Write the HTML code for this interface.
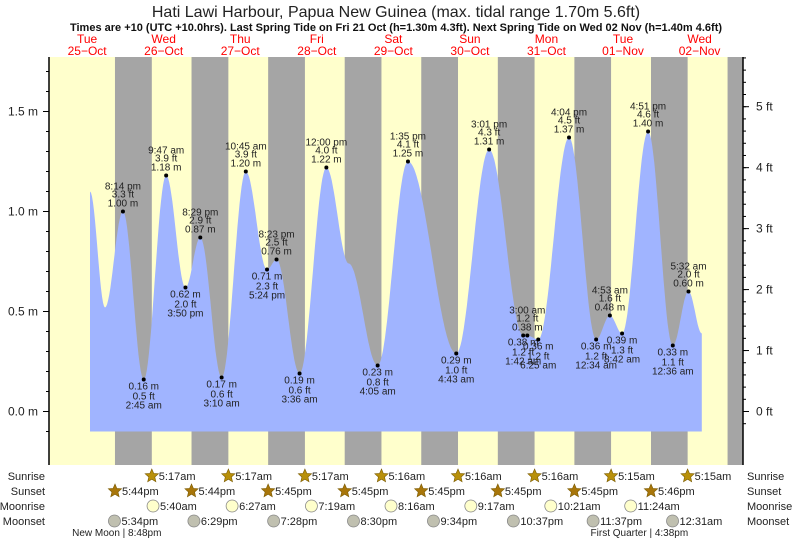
<!DOCTYPE html>
<html><head><meta charset="utf-8"><style>
body{margin:0;background:#fff;}
svg{display:block;font-family:"Liberation Sans",sans-serif;}
</style></head><body>
<svg id="chart" width="793" height="539" viewBox="0 0 793 539">
<text x="396" y="17" text-anchor="middle" font-size="16" fill="#222">Hati Lawi Harbour, Papua New Guinea (max. tidal range 1.70m 5.6ft)</text>
<text x="396" y="31" text-anchor="middle" font-size="11" font-weight="bold" fill="#111">Times are +10 (UTC +10.0hrs). Last Spring Tide on Fri 21 Oct (h=1.30m 4.3ft). Next Spring Tide on Wed 02 Nov (h=1.40m 4.6ft)</text>
<g id="bg"></g><g id="tide"></g><g id="axes"></g><g id="lbl"></g><g id="astro"></g>
</svg>
<script>
// ---- data (hours from Tue 25-Oct 00:00) ----
const dayNames=["Tue","Wed","Thu","Fri","Sat","Sun","Mon","Tue","Wed"];
const dayDates=["25\u2212Oct","26\u2212Oct","27\u2212Oct","28\u2212Oct","29\u2212Oct","30\u2212Oct","31\u2212Oct","01\u2212Nov","02\u2212Nov"];
const tideTimes=[9.9,14.6,20.23,26.75,33.78,39.83,44.48,51.17,58.75,65.4,68.38,75.6,84.0,91.0,100.08,109.58,124.72,135.02,145.7,147.0,150.42,160.07,168.57,172.88,176.7,184.85,192.6,197.53,201.7];
const tideHeights=[1.10,0.52,1.00,0.16,1.18,0.62,0.87,0.17,1.20,0.71,0.76,0.19,1.22,0.74,0.23,1.25,0.29,1.31,0.38,0.38,0.36,1.37,0.36,0.48,0.39,1.40,0.33,0.60,0.39];
const tideLabeled=[0,0,1,1,1,1,1,1,1,1,1,1,1,0,1,1,1,1,1,1,1,1,1,1,1,1,1,1,0];
const tideIsHigh=[1,0,1,0,1,0,1,0,1,0,1,0,1,0,0,1,0,1,0,1,0,1,0,1,0,1,0,1,0];
const tideTimeText=["","","8:14 pm","2:45 am","9:47 am","3:50 pm","8:29 pm","3:10 am","10:45 am","5:24 pm","8:23 pm","3:36 am","12:00 pm","","4:05 am","1:35 pm","4:43 am","3:01 pm","1:42 am","3:00 am","6:25 am","4:04 pm","12:34 am","4:53 am","8:42 am","4:51 pm","12:36 am","5:32 am",""];
const sunriseTimes=[29.28,53.28,77.28,101.27,125.27,149.27,173.25,197.25];
const sunriseText=["5:17am","5:17am","5:17am","5:16am","5:16am","5:16am","5:15am","5:15am"];
const sunsetTimes=[17.73,41.73,65.75,89.75,113.75,137.75,161.75,185.77,209.77];
const sunsetText=["5:44pm","5:44pm","5:45pm","5:45pm","5:45pm","5:45pm","5:45pm","5:46pm"];
const moonriseTimes=[29.67,54.45,79.32,104.27,129.28,154.35,179.4];
const moonriseText=["5:40am","6:27am","7:19am","8:16am","9:17am","10:21am","11:24am"];
const moonsetTimes=[17.57,42.48,67.47,92.5,117.57,142.62,167.62,192.52];
const moonsetText=["5:34pm","6:29pm","7:28pm","8:30pm","9:34pm","10:37pm","11:37pm","12:31am"];
const phaseTimes=[20.8,184.63];
const phaseText=["New Moon | 8:48pm","First Quarter | 4:38pm"];
const mTicks=[0,0.5,1.0,1.5];
const ftTicks=[0,1,2,3,4,5];

const NS="http://www.w3.org/2000/svg";
const X0=49,X1=743,Y0=57,Y1=465;
function xs(t){return 58.4+t*3.19;}
function ys(h){return 411.5-h*200;}
function mk(tag,attrs,parent,txt){const e=document.createElementNS(NS,tag);for(const k in attrs)e.setAttribute(k,attrs[k]);if(txt!==undefined)e.textContent=txt;parent.appendChild(e);return e;}
const bg=document.getElementById('bg'),tide=document.getElementById('tide'),axes=document.getElementById('axes'),lbl=document.getElementById('lbl'),astro=document.getElementById('astro');

let r=mk('rect',{x:X0,y:Y0,width:X1-X0,height:Y1-Y0,fill:'#ffffcc'},bg);


for(let i=0;i<sunsetTimes.length;i++){
  const a=xs(sunsetTimes[i]);const b=i<sunriseTimes.length?xs(sunriseTimes[i]):X1;
  const e=mk('rect',{x:a,y:Y0,width:Math.min(b,X1)-a,height:Y1-Y0,fill:'#a5a5a5'},bg);
  
  
}
for(let d=0;d<dayNames.length;d++){
  const x=xs(d*24+9);
  const t1=mk('text',{x:x,y:43,'text-anchor':'middle','font-size':12,fill:'#ff0000'},lbl,dayNames[d]);
  
  
  const t2=mk('text',{x:x,y:55,'text-anchor':'middle','font-size':12,fill:'#ff0000'},lbl,dayDates[d]);
  
  
}
let pts=[[xs(tideTimes[0]),ys(-0.1)]];
for(let i=0;i<tideTimes.length-1;i++){
  const t0=tideTimes[i],t1=tideTimes[i+1],h0=tideHeights[i],h1=tideHeights[i+1];
  const n=Math.max(4,Math.ceil((t1-t0)*3));
  for(let k=0;k<=n;k++){const f=k/n;const h=h0+(h1-h0)*(1-Math.cos(Math.PI*f))/2;pts.push([xs(t0+(t1-t0)*f),ys(h)]);}
}
pts.push([xs(tideTimes[tideTimes.length-1]),ys(-0.1)]);
const area=mk('polygon',{points:pts.map(p=>p[0].toFixed(1)+','+p[1].toFixed(1)).join(' '),fill:'#a0b4ff'},tide);


for(let i=0;i<tideTimes.length;i++){
  if(!tideLabeled[i])continue;
  const x=xs(tideTimes[i]),y=ys(tideHeights[i]);
  const high=tideIsHigh[i]===1;
  const dot=mk('circle',{cx:x,cy:y,r:2,fill:'#000'},lbl);
  
  
  const m=tideHeights[i].toFixed(2)+' m',ft=(tideHeights[i]*3.28084).toFixed(1)+' ft',tt=tideTimeText[i];
  const lines=high?[[tt,-22],[ft,-14],[m,-5]]:[[m,10],[ft,20],[tt,29]];
  for(const L of lines){
    const e=mk('text',{x:x,y:y+L[1],'text-anchor':'middle','font-size':10,fill:'#222'},lbl,L[0]);
    
    
  }
}
let al=mk('line',{x1:X0,y1:Y0,x2:X0,y2:Y1,stroke:'#000','stroke-width':1.5},axes);


let ar=mk('line',{x1:X1,y1:Y0,x2:X1,y2:Y1,stroke:'#000','stroke-width':1.5},axes);


for(let k=-1;k<=17;k++){const y=ys(k/10);if(y<Y0||y>Y1)continue;mk('line',{x1:X0-3,y1:y,x2:X0,y2:y,stroke:'#000'},axes);}
for(const v of mTicks){const y=ys(v);mk('line',{x1:X0-6,y1:y,x2:X0,y2:y,stroke:'#000'},axes);
  const e=mk('text',{x:X0-11,y:y+4,'text-anchor':'end','font-size':12,fill:'#222'},axes,v.toFixed(1)+' m');
  
  }
for(let k=-1;k<=29;k++){const y=ys(k*0.2*0.3048);if(y<Y0||y>Y1)continue;mk('line',{x1:X1,y1:y,x2:X1+3,y2:y,stroke:'#000'},axes);}
for(const v of ftTicks){const y=ys(v*0.3048);mk('line',{x1:X1,y1:y,x2:X1+6,y2:y,stroke:'#000'},axes);
  const e=mk('text',{x:X1+13,y:y+4,'font-size':12,fill:'#222'},axes,v+' ft');
  
  }
const rows=[["Sunrise",480],["Sunset",495],["Moonrise",510],["Moonset",525]];
for(const rw of rows){
  const a=mk('text',{x:45,y:rw[1],'text-anchor':'end','font-size':11,fill:'#222'},astro,rw[0]);
  
  
  const b=mk('text',{x:747,y:rw[1],'font-size':11,fill:'#222'},astro,rw[0]);
  
  
}
function star(cx,cy,fill){let p=[];for(let k=0;k<10;k++){const a=-Math.PI/2+k*Math.PI/5;const rr=k%2?3.2:7;p.push((cx+rr*Math.cos(a)).toFixed(1)+','+(cy+rr*Math.sin(a)).toFixed(1));}return mk('polygon',{points:p.join(' '),fill:fill,stroke:'#7a5a00','stroke-width':0.6},astro);}
function addRow(times,texts,y,kind){
  for(let i=0;i<texts.length;i++){
    const x=xs(times[i]);let ic;
    if(kind==='sunrise')ic=star(x,y-4,'#b8900a');
    else if(kind==='sunset')ic=star(x,y-4,'#a8760a');
    else ic=mk('circle',{cx:x,cy:y-4,r:6,fill:kind==='moonrise'?'#ffffcc':'#c0c0b0',stroke:'#888','stroke-width':0.8},astro);
    
    
    const t=mk('text',{x:x+7,y:y,'font-size':11,fill:'#222'},astro,texts[i]);
    
    
  }
}
addRow(sunriseTimes,sunriseText,480,'sunrise');
addRow(sunsetTimes,sunsetText,495,'sunset');
addRow(moonriseTimes,moonriseText,510,'moonrise');
addRow(moonsetTimes,moonsetText,525,'moonset');
for(let i=0;i<phaseTimes.length;i++){
  const e=mk('text',{x:xs(phaseTimes[i])-8,y:536,'text-anchor':'middle','font-size':10,fill:'#222'},astro,phaseText[i]);
  
  
}
</script>
</body></html>
